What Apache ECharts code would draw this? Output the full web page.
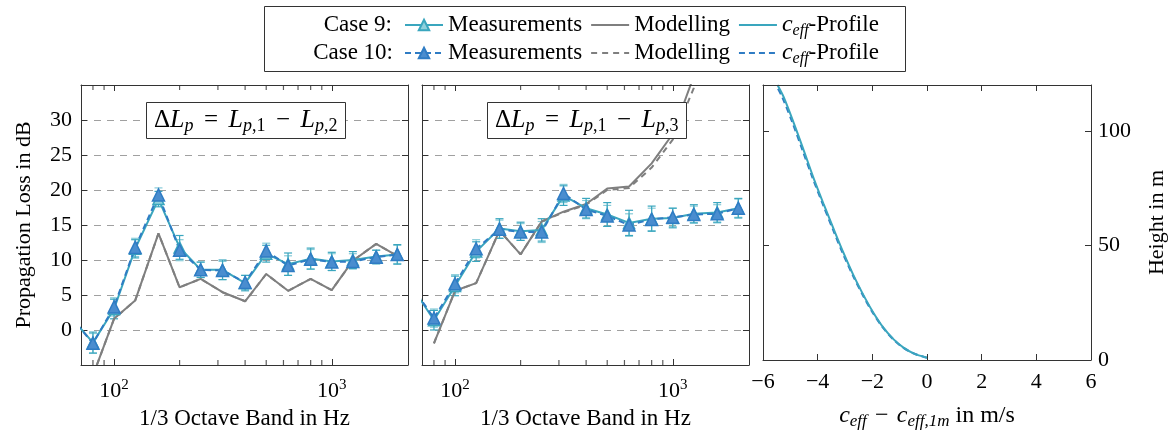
<!DOCTYPE html>
<html><head><meta charset="utf-8">
<script src="https://cdn.jsdelivr.net/npm/echarts@6/dist/echarts.min.js"></script>
<style>html,body{margin:0;padding:0;background:#fff}#c{width:1169px;height:435px}</style>
</head><body><div id="c"></div>
<script>
// ---------- data ----------
const BANDS_EXT = [63,80,100,125,160,200,250,315,400,500,630,800,1000,1250,1600,2000];
const BANDS = [80,100,125,160,200,250,315,400,500,630,800,1000,1250,1600,2000];
const MINOR_TICKS = [80,90,200,300,400,500,600,700,800,900];

// Panel 1: dL = Lp1 - Lp2
const P1_MEAS9  = [1.9,-1.8,3.0,11.6,18.7,11.8,8.6,8.6,6.7,10.9,9.4,10.2,9.8,10.0,10.5,10.8];
const P1_MEAS10 = [1.9,-1.9,3.3,11.8,19.3,11.4,8.6,8.5,6.8,11.3,9.2,10.1,9.7,9.8,10.4,10.8];
const P1_ERR9   = [1.5,1.4,1.3,1.1,1.7,1.1,1.4,1.1,1.2,1.6,1.5,1.3,1.2,0.9,1.4];
const P1_ERR10  = [1.4,1.3,1.3,1.0,1.5,1.1,1.3,1.0,1.1,1.4,1.4,1.2,1.1,1.0,1.3];
const P1_MOD9   = [-6.5,1.6,4.2,13.8,6.1,7.3,5.4,4.1,8.0,5.6,7.3,5.7,9.9,12.3,10.6];
const P1_MOD10  = [-6.5,1.6,4.2,13.8,6.1,7.3,5.4,4.1,8.0,5.6,7.3,5.7,9.9,12.3,10.6];

// Panel 2: dL = Lp1 - Lp3
const P2_MEAS9  = [6.3,1.4,6.3,11.2,14.5,14.1,14.3,19.2,17.4,16.5,15.3,15.9,16.0,16.6,16.8,17.4];
const P2_MEAS10 = [6.3,1.7,6.6,11.6,14.4,14.0,14.0,19.5,17.2,16.3,15.0,15.8,16.1,16.5,16.6,17.4];
const P2_ERR9   = [1.4,1.4,1.4,1.4,1.3,1.6,1.4,1.4,1.7,1.8,1.8,1.4,1.3,1.4,1.4];
const P2_ERR10  = [1.3,1.3,1.3,1.3,1.2,1.5,1.3,1.3,1.5,1.6,1.6,1.3,1.2,1.3,1.3];
const P2_MOD9   = [-1.9,5.6,6.7,14.2,10.8,15.5,16.9,18.0,20.2,20.5,23.8,28.0,36.3];
const P2_MOD10  = [-1.9,5.6,6.7,14.2,10.8,15.5,16.8,17.9,20.0,20.3,23.2,27.2,34.6,44.0];

// Panel 3: c_eff profile
const PROF_DC9  = [0,-0.49,-0.86,-1.22,-1.59,-1.95,-2.32,-2.68,-3.05,-3.42,-3.78,-4.15,-4.51,-4.88,-5.25,-5.47];
const PROF_DC10 = [0,-0.50,-0.87,-1.23,-1.60,-1.97,-2.34,-2.70,-3.08,-3.45,-3.81,-4.18,-4.55,-4.92,-5.30,-5.52];
const PROF_H    = [1,2.9,5.4,9.0,14.0,20.4,28.2,36.7,46.6,57.3,68.0,79.4,91.5,103.6,114.9,120];

const Y_TICKS = {min:-5, max:35, interval:5};
const X_LOG = {min:70.5, max:2240};

// ---------- styles ----------
const FONT = 'Liberation Serif';
const TEAL = '#3aa6be', TEAL_L = '#8fd0dc', BLUE = '#2f7cc4', BLUE_F = '#4a8dcf', GRAY = '#7f7f7f', FRAME = '#333';
const ERR9 = '#3aa6be', ERR10 = '#86cbd8';

const zip = (xs, ys) => ys.map((v, i) => [xs[i], v]);
const errData = (xs, ys, es) => es.map((e, i) => [xs[i], ys[i] - e, ys[i] + e]);

function errRender(color) {
  return function (params, api) {
    const f = api.value(0), lo = api.value(1), hi = api.value(2);
    const a = api.coord([f, lo]), b = api.coord([f, hi]);
    const w = 4;
    const st = {stroke: color, lineWidth: 1.2};
    return {type: 'group', children: [
      {type: 'line', shape: {x1: a[0], y1: a[1], x2: b[0], y2: b[1]}, style: st},
      {type: 'line', shape: {x1: a[0]-w, y1: a[1], x2: a[0]+w, y2: a[1]}, style: st},
      {type: 'line', shape: {x1: b[0]-w, y1: b[1], x2: b[0]+w, y2: b[1]}, style: st}
    ]};
  };
}

const tickStyle = {show: true, inside: true, length: 6, lineStyle: {color: FRAME}};
const lineAx = {show: true, onZero: false, lineStyle: {color: FRAME, width: 1}};
const lblBase = {fontFamily: FONT, fontSize: 22, color: '#000'};

function logX(gi, pos, labels) {
  return {
    type: 'log', logBase: 10, gridIndex: gi, position: pos, min: X_LOG.min, max: X_LOG.max, z: 5,
    axisLine: lineAx, axisTick: tickStyle, splitLine: {show: false}, minorTick: {show: false},
    axisLabel: labels ? {
      show: true, margin: 13, showMinLabel: false, showMaxLabel: false,
      formatter: v => '{b|10}{sup|' + Math.round(Math.log10(v)) + '}',
      rich: {b: {fontFamily: FONT, fontSize: 22, lineHeight: 24, verticalAlign: 'bottom', color: '#000'},
             sup: {fontFamily: FONT, fontSize: 15, lineHeight: 15, verticalAlign: 'top', color: '#000'}}
    } : {show: false},
    name: labels ? '1/3 Octave Band in Hz' : '', nameLocation: 'middle', nameGap: 42,
    nameTextStyle: {fontFamily: FONT, fontSize: 23, color: '#000'}
  };
}
function lossY(gi, pos, labels, split, name) {
  return {
    type: 'value', gridIndex: gi, position: pos, min: Y_TICKS.min, max: Y_TICKS.max, interval: Y_TICKS.interval,
    axisLine: lineAx, axisTick: tickStyle,
    splitLine: split ? {show: true, lineStyle: {color: '#a0a0a0', type: [7, 6], width: 1}} : {show: false},
    axisLabel: labels ? Object.assign({show: true, margin: 9, showMinLabel: false, showMaxLabel: false}, lblBase) : {show: false},
    name: name || '', nameLocation: 'middle', nameGap: 46,
    nameTextStyle: {fontFamily: FONT, fontSize: 22, color: '#000'}
  };
}

const grids = [
  {left: 81, top: 85, width: 327, height: 281},
  {left: 422, top: 85, width: 327, height: 281},
  {left: 763, top: 85, width: 328, height: 281}
];

const minus = v => (v < 0 ? '\u2212' + Math.abs(v) : String(v));

const xAxes = [
  logX(0, 'bottom', true), logX(0, 'top', false),
  logX(1, 'bottom', true), logX(1, 'top', false),
  {type: 'value', gridIndex: 2, position: 'bottom', min: -6, max: 6, interval: 2, z: 5,
   axisLine: lineAx, axisTick: tickStyle, splitLine: {show: false},
   axisLabel: Object.assign({margin: 11, formatter: minus}, lblBase),
   name: '{i|c}{s|eff}{n|\u2212}{i|c}{s|eff,1m}{t| in m/s}', nameLocation: 'middle', nameGap: 42,
   nameTextStyle: {fontFamily: FONT, fontSize: 23, color: '#000', rich: {
     i: {fontFamily: FONT, fontStyle: 'italic', fontSize: 24, lineHeight: 28, verticalAlign: 'middle'},
     s: {fontFamily: FONT, fontStyle: 'italic', fontSize: 17, lineHeight: 16, verticalAlign: 'bottom'},
     n: {fontFamily: FONT, fontSize: 24, lineHeight: 28, width: 30, align: 'center'},
     t: {fontFamily: FONT, fontSize: 24, lineHeight: 28}
   }}},
  {type: 'value', gridIndex: 2, position: 'top', min: -6, max: 6, interval: 2, z: 5,
   axisLine: lineAx, axisTick: tickStyle, splitLine: {show: false}, axisLabel: {show: false}}
];
const yAxes = [
  lossY(0, 'left', true, true, 'Propagation Loss in dB'), lossY(0, 'right', false, false),
  lossY(1, 'left', false, true), lossY(1, 'right', false, false),
  {type: 'value', gridIndex: 2, position: 'left', min: 0, max: 120, interval: 50,
   axisLine: lineAx, axisTick: tickStyle, splitLine: {show: false}, axisLabel: {show: false}},
  {type: 'value', gridIndex: 2, position: 'right', min: 0, max: 120, interval: 50,
   axisLine: lineAx, axisTick: tickStyle, splitLine: {show: false},
   axisLabel: Object.assign({margin: 7, showMaxLabel: false}, lblBase),
   name: 'Height in m', nameLocation: 'middle', nameGap: 55,
   nameTextStyle: {fontFamily: FONT, fontSize: 22, color: '#000'}}
];

const N_M9 = 'C9 Measurements', N_MOD9 = 'C9 Modelling', N_P9 = 'C9 Profile';
const N_M10 = 'C10 Measurements', N_MOD10 = 'C10 Modelling', N_P10 = 'C10 Profile';

function minorTickSeries(xi, yv, off) {
  return {type: 'scatter', name: 'minor' + xi + '_' + yv, xAxisIndex: xi, yAxisIndex: xi, silent: true, clip: false, z: 6,
    data: MINOR_TICKS.map(f => [f, yv]), symbol: 'rect', symbolSize: [1.2, 5], symbolOffset: [0, off],
    itemStyle: {color: FRAME}, emphasis: {disabled: true}};
}

function panelSeries(k, meas9, meas10, err9, err10, mod9, mod10) {
  const xi = k * 2, yi = k * 2;
  return [
    minorTickSeries(xi, Y_TICKS.min, -2.5),
    minorTickSeries(xi, Y_TICKS.max, 2.5),
    {type: 'line', name: N_MOD10, xAxisIndex: xi, yAxisIndex: yi, data: zip(BANDS, mod10), showSymbol: false, symbol: 'none',
     lineStyle: {color: GRAY, width: 2, type: [6, 5]}, itemStyle: {color: GRAY}, clip: true},
    {type: 'line', name: N_MOD9, xAxisIndex: xi, yAxisIndex: yi, data: zip(BANDS, mod9), showSymbol: false, symbol: 'none',
     lineStyle: {color: GRAY, width: 2}, itemStyle: {color: GRAY}, clip: true},
    {type: 'custom', xAxisIndex: xi, yAxisIndex: yi, silent: true, data: errData(BANDS, meas10.slice(1), err10),
     renderItem: errRender(ERR10), encode: {x: 0, y: [1, 2]}, clip: true},
    {type: 'custom', xAxisIndex: xi, yAxisIndex: yi, silent: true, data: errData(BANDS, meas9.slice(1), err9),
     renderItem: errRender(ERR9), encode: {x: 0, y: [1, 2]}, clip: true},
    {type: 'line', name: N_M9, xAxisIndex: xi, yAxisIndex: yi, data: zip(BANDS_EXT, meas9), symbol: 'triangle', symbolSize: 11,
     lineStyle: {color: TEAL, width: 2}, itemStyle: {color: TEAL_L, borderColor: TEAL, borderWidth: 1.5}, clip: true},
    {type: 'line', name: N_M10, xAxisIndex: xi, yAxisIndex: yi, data: zip(BANDS_EXT, meas10), symbol: 'triangle', symbolSize: 12,
     lineStyle: {color: BLUE, width: 2, type: [6, 4]}, itemStyle: {color: BLUE_F, borderColor: BLUE, borderWidth: 1.5}, clip: true}
  ];
}

const series = [].concat(
  panelSeries(0, P1_MEAS9, P1_MEAS10, P1_ERR9, P1_ERR10, P1_MOD9, P1_MOD10),
  panelSeries(1, P2_MEAS9, P2_MEAS10, P2_ERR9, P2_ERR10, P2_MOD9, P2_MOD10),
  [
    {type: 'line', name: N_P10, xAxisIndex: 4, yAxisIndex: 4, data: zip(PROF_DC10, PROF_H), showSymbol: false, symbol: 'none',
     smooth: 0.3, lineStyle: {color: BLUE, width: 2.2, type: [6, 4]}, itemStyle: {color: BLUE}},
    {type: 'line', name: N_P9, xAxisIndex: 4, yAxisIndex: 4, data: zip(PROF_DC9, PROF_H), showSymbol: false, symbol: 'none',
     smooth: 0.3, lineStyle: {color: TEAL, width: 2}, itemStyle: {color: TEAL}}
  ]
);

const legendRich = {
  i: {fontFamily: FONT, fontStyle: 'italic', fontSize: 24, lineHeight: 28},
  s: {fontFamily: FONT, fontStyle: 'italic', fontSize: 16, lineHeight: 16, verticalAlign: 'bottom'},
  t: {fontFamily: FONT, fontSize: 23, lineHeight: 28}
};
const legendFmt = name => {
  if (name.indexOf('Profile') >= 0) return '{i|c}{s|eff}{t|-Profile}';
  return '{t|' + name.replace(/^C\d+ /, '') + '}';
};
function legend(names, top) {
  return {
    data: names.map((n, i) => i === 0 ? {name: n} : {name: n, itemStyle: {opacity: 0}}),
    left: 404, top: top, orient: 'horizontal', padding: 0, itemGap: 8,
    itemWidth: 38, itemHeight: 13, selectedMode: false, formatter: legendFmt,
    textStyle: {fontFamily: FONT, fontSize: 23, color: '#000', lineHeight: 28, rich: legendRich}};
}

const boxRich = {
  n: {fontFamily: FONT, fontWeight: 'normal', fontSize: 25, lineHeight: 30, color: '#000'},
  i: {fontFamily: FONT, fontWeight: 'normal', fontStyle: 'italic', fontSize: 26, lineHeight: 30, color: '#000'},
  s: {fontFamily: FONT, fontWeight: 'normal', fontStyle: 'italic', fontSize: 18, lineHeight: 17, verticalAlign: 'bottom', color: '#000'},
  r: {fontFamily: FONT, fontWeight: 'normal', fontSize: 18, lineHeight: 17, verticalAlign: 'bottom', color: '#000'},
  o: {fontFamily: FONT, fontWeight: 'normal', fontSize: 25, lineHeight: 30, width: 35, align: 'center', color: '#000'}
};
function boxTitle(left, idx) {
  return {text: '{n|\u0394}{i|L}{s|p}{o|=}{i|L}{s|p}{r|,1}{o|\u2212}{i|L}{s|p}{r|,' + idx + '}',
    left: left, top: 100, padding: [5, 8, 4, 8], borderWidth: 1, borderColor: FRAME, backgroundColor: '#fff',
    textStyle: {rich: boxRich, fontSize: 25, fontWeight: 'normal', fontFamily: FONT}};
}

const option = {
  animation: false,
  backgroundColor: '#fff',
  grid: grids,
  xAxis: xAxes,
  yAxis: yAxes,
  title: [boxTitle(146, 2), boxTitle(487, 3)],
  legend: [legend([N_M9, N_MOD9, N_P9], 11), legend([N_M10, N_MOD10, N_P10], 39)],
  graphic: [
    {type: 'rect', shape: {x: 264.5, y: 6.5, width: 641, height: 65}, style: {fill: 'none', stroke: FRAME, lineWidth: 1}},
    {type: 'text', x: 392, y: 25, style: {text: 'Case 9:', fontFamily: FONT, fontSize: 23, fill: '#000', align: 'right', verticalAlign: 'middle'}},
    {type: 'text', x: 393, y: 53, style: {text: 'Case 10:', fontFamily: FONT, fontSize: 23, fill: '#000', align: 'right', verticalAlign: 'middle'}}
  ],
  series: series
};
const chart = echarts.init(document.getElementById('c'), null, {renderer: 'canvas'});
chart.setOption(option);
</script></body></html>
